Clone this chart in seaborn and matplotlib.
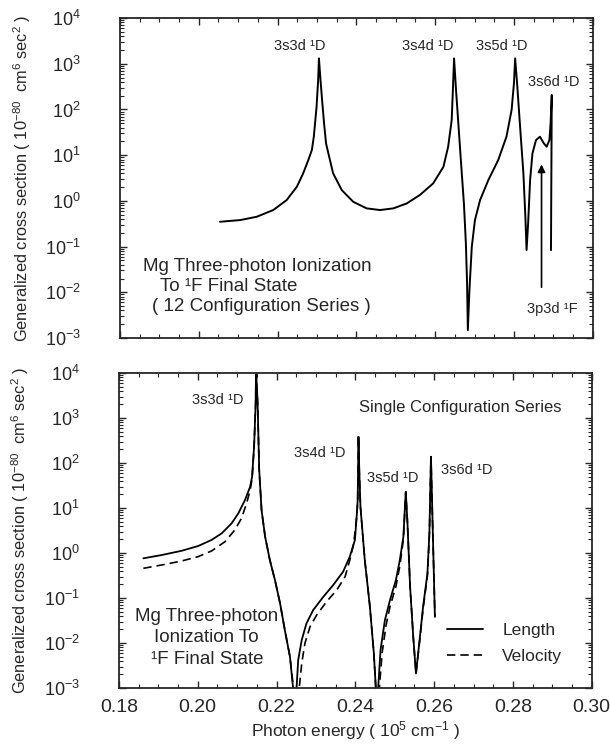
import numpy as np
import pandas as pd
import seaborn as sns
import matplotlib
import matplotlib.pyplot as plt
from matplotlib.ticker import LogLocator, MultipleLocator, NullFormatter, FuncFormatter
matplotlib.use('Agg')

# top panel: 12 configuration series
top_x = [0.2054, 0.2105, 0.2147, 0.2189, 0.2223, 0.2249, 0.2265, 0.2278, 0.2287, 0.2292,
         0.2299, 0.2303, 0.2305, 0.2309, 0.2313, 0.2318, 0.2323, 0.2329, 0.2341, 0.2363,
         0.2392, 0.2426, 0.2460, 0.2494, 0.2528, 0.2561, 0.2595, 0.2621, 0.2633, 0.2642,
         0.2645, 0.2648, 0.2653, 0.2660, 0.2667, 0.2673, 0.2678, 0.2681, 0.2683, 0.2687,
         0.2693, 0.2701, 0.2714, 0.2735, 0.2760, 0.2781, 0.2794, 0.2800, 0.2803, 0.2808,
         0.2815, 0.2824, 0.2829, 0.2832, 0.2836, 0.2841, 0.2847, 0.2856, 0.2866, 0.2876,
         0.2883, 0.2890, 0.2893, 0.2896, 0.2894]
top_y = [0.349, 0.380, 0.449, 0.630, 1.04, 2.04, 4.0, 7.8, 12.9, 25.3,
         115, 440, 1310, 440, 161, 50, 18.1, 10.9, 4.0, 1.72,
         0.955, 0.686, 0.63, 0.686, 0.88, 1.34, 2.41, 5.57, 15.3, 58.6,
         266, 1310, 266, 35.4, 4.72, 0.88, 0.117, 0.0157, 0.00149, 0.0112,
         0.099, 0.38, 1.04, 2.85, 7.8, 25.3, 97, 372, 1310, 372,
         49.5, 4.0, 0.449, 0.0838, 0.322, 2.85, 10.9, 21.4, 25.3, 18.1,
         15.3, 21.4, 49.5, 207, 0.0838]

# bottom panel: single configuration series, length and velocity forms
len_x = [0.1862, 0.1908, 0.1959, 0.2001, 0.2035, 0.2061, 0.2086, 0.2103, 0.2120, 0.2133,
         0.2138, 0.2143, 0.2147, 0.2148, 0.2152, 0.2156, 0.2162, 0.2171, 0.2183, 0.2196,
         0.2209, 0.2221, 0.2234, 0.2242, 0.2246, 0.2251, 0.2255, 0.2264, 0.2276, 0.2293,
         0.2319, 0.2344, 0.2369, 0.2386, 0.2399, 0.2404, 0.2406, 0.2407, 0.2408, 0.2410,
         0.2413, 0.2424, 0.2437, 0.2447, 0.2452, 0.2455, 0.2458, 0.2464, 0.2475, 0.2488,
         0.2503, 0.2513, 0.2522, 0.2528, 0.2532, 0.2539, 0.2547, 0.2554, 0.2564, 0.2572,
         0.2583, 0.2588, 0.2592, 0.2598, 0.2602]
len_y = [0.762, 0.90, 1.12, 1.43, 1.95, 2.74, 4.57, 7.6, 15.1, 29.7,
         50, 231, 2120, 12000, 2120, 70, 9.0, 2.31, 0.70, 0.25,
         0.076, 0.0195, 0.005, 0.001, 0.0001, 0.00107, 0.0042, 0.0117, 0.0274, 0.054,
         0.107, 0.195, 0.384, 0.83, 1.95, 7.6, 15.1, 70, 385, 70,
         10.7, 0.70, 0.064, 0.0059, 0.001, 0.0001, 0.001, 0.007, 0.032, 0.090,
         0.25, 0.70, 2.31, 23, 5.4, 0.18, 0.0138, 0.0021, 0.0138, 0.064,
         0.35, 2.74, 138, 0.98, 0.038]

vel_x = [0.1862, 0.1908, 0.1959, 0.2001, 0.2035, 0.2069, 0.2094, 0.2111, 0.2124, 0.2133,
         0.2138, 0.2143, 0.2147, 0.2148, 0.2152, 0.2156, 0.2162, 0.2171, 0.2183, 0.2196,
         0.2209, 0.2221, 0.2234, 0.2243, 0.2249, 0.2258, 0.2264, 0.2272, 0.2285, 0.2302,
         0.2327, 0.2353, 0.2374, 0.2386, 0.2396, 0.2404, 0.2406, 0.2407, 0.2408, 0.2410,
         0.2413, 0.2424, 0.2437, 0.2447, 0.2452, 0.2456, 0.2461, 0.2468, 0.2478, 0.2488,
         0.2503, 0.2513, 0.2522, 0.2528, 0.2532, 0.2539, 0.2547, 0.2554, 0.2564, 0.2572,
         0.2583, 0.2588, 0.2592, 0.2598, 0.2602]
vel_y = [0.457, 0.541, 0.664, 0.83, 1.11, 1.78, 3.24, 5.9, 12.7, 25,
         45, 225, 2100, 12000, 2120, 70, 9.0, 2.31, 0.70, 0.25,
         0.076, 0.0195, 0.005, 0.001, 0.0001, 0.00107, 0.00354, 0.0098, 0.023, 0.042,
         0.083, 0.151, 0.297, 0.70, 1.64, 7.0, 14, 70, 385, 70,
         10.7, 0.70, 0.064, 0.0059, 0.001, 0.0001, 0.001, 0.006, 0.025, 0.064,
         0.18, 0.52, 2.0, 23, 5.4, 0.18, 0.0138, 0.0021, 0.0125, 0.058,
         0.31, 2.5, 138, 0.98, 0.038]

x_ticks = [0.18, 0.20, 0.22, 0.24, 0.26, 0.28, 0.30]

sns.set_style('ticks')
plt.rcParams['font.family'] = ['Liberation Sans', 'DejaVu Sans']
plt.rcParams['mathtext.fontset'] = 'custom'
plt.rcParams['mathtext.rm'] = 'Liberation Sans'
plt.rcParams['mathtext.default'] = 'regular'

fig = plt.figure(figsize=(6.1, 7.45), dpi=100)
ax1 = fig.add_axes([0.1967, 0.5463, 0.775, 0.4295])
ax2 = fig.add_axes([0.195, 0.0765, 0.775, 0.4228])

top = pd.DataFrame({'x': top_x, 'y': top_y})
sns.lineplot(data=top, x='x', y='y', sort=False, estimator=None, color='black', lw=1.4, ax=ax1)

length = pd.DataFrame({'x': len_x, 'y': len_y})
velocity = pd.DataFrame({'x': vel_x, 'y': vel_y})
sns.lineplot(data=length, x='x', y='y', sort=False, estimator=None, color='black', lw=1.3,
             ax=ax2, label='Length')
sns.lineplot(data=velocity, x='x', y='y', sort=False, estimator=None, color='black', lw=1.2,
             ax=ax2, label='Velocity', linestyle=(0, (5, 3)))

ylab = 'Generalized cross section ( 10$^{-80}$  cm$^{6}$ sec$^{2}$ )'
fmt = FuncFormatter(lambda v, p: '$10^{%d}$' % int(round(np.log10(v))))
for ax in (ax1, ax2):
    ax.set_yscale('log')
    ax.set_xlim(0.18, 0.30)
    ax.set_ylim(1e-3, 1e4)
    ax.set_xticks(x_ticks)
    ax.xaxis.set_minor_locator(MultipleLocator(0.005))
    ax.yaxis.set_major_locator(LogLocator(base=10, numticks=10))
    ax.yaxis.set_minor_locator(LogLocator(base=10, subs=np.arange(2, 10), numticks=10))
    ax.yaxis.set_minor_formatter(NullFormatter())
    ax.yaxis.set_major_formatter(fmt)
    ax.tick_params(which='both', direction='in', top=True, right=True)
    ax.tick_params(axis='y', which='major', labelsize=13, pad=28)
    ax.tick_params(axis='x', which='major', labelsize=14, pad=8)
    ax.tick_params(which='major', length=5, width=1)
    ax.tick_params(which='minor', length=3, width=0.8)
    for s in ax.spines.values():
        s.set_linewidth(1.3)
    ax.set_ylabel(ylab, fontsize=11.8)
    ax.yaxis.set_label_coords(-0.185, 0.5)
    ax.set_xlabel('')

ax1.tick_params(axis='x', labelbottom=False)
ax2.xaxis.set_major_formatter(FuncFormatter(lambda v, p: '%.2f' % v))
ax2.set_xlabel('Photon energy ( 10$^{5}$ cm$^{-1}$ )', fontsize=12.5, labelpad=2)

pk = dict(fontsize=10.5, ha='center', va='center')
ax1.text(0.2256, 2450, '3s3d ¹D', **pk)
ax1.text(0.2580, 2450, '3s4d ¹D', **pk)
ax1.text(0.2770, 2450, '3s5d ¹D', **pk)
ax1.text(0.2900, 404, '3s6d ¹D', **pk)
ax1.annotate('', xy=(0.2870, 7.2), xytext=(0.2870, 0.0112),
             arrowprops=dict(arrowstyle='-|>', color='black', lw=1.2, mutation_scale=11))
ax1.text(0.2897, 0.0044, '3p3d ¹F', **pk)
big = dict(fontsize=13.5, va='center')
ax1.text(0.049, 0.222, 'Mg Three-photon Ionization', transform=ax1.transAxes, **big)
ax1.text(0.085, 0.16, 'To ¹F Final State', transform=ax1.transAxes, **big)
ax1.text(0.068, 0.097, '( 12 Configuration Series )', transform=ax1.transAxes, **big)

ax2.text(0.2051, 2500, '3s3d ¹D', **pk)
ax2.text(0.2310, 167, '3s4d ¹D', **pk)
ax2.text(0.2495, 46, '3s5d ¹D', **pk)
ax2.text(0.2683, 69, '3s6d ¹D', **pk)
ax2.text(0.2666, 1670, 'Single Configuration Series', fontsize=12, ha='center', va='center')
ax2.text(0.2023, 0.038, 'Mg Three-photon', ha='center', **big)
ax2.text(0.2023, 0.013, 'Ionization To', ha='center', **big)
ax2.text(0.2023, 0.0042, '¹F Final State', ha='center', **big)

ax2.legend(loc='upper left', bbox_to_anchor=(0.66, 0.255), frameon=False, handlelength=2.1,
           handletextpad=1.1, fontsize=12.5, labelspacing=0.6)

fig.savefig('out.png', dpi=100)
